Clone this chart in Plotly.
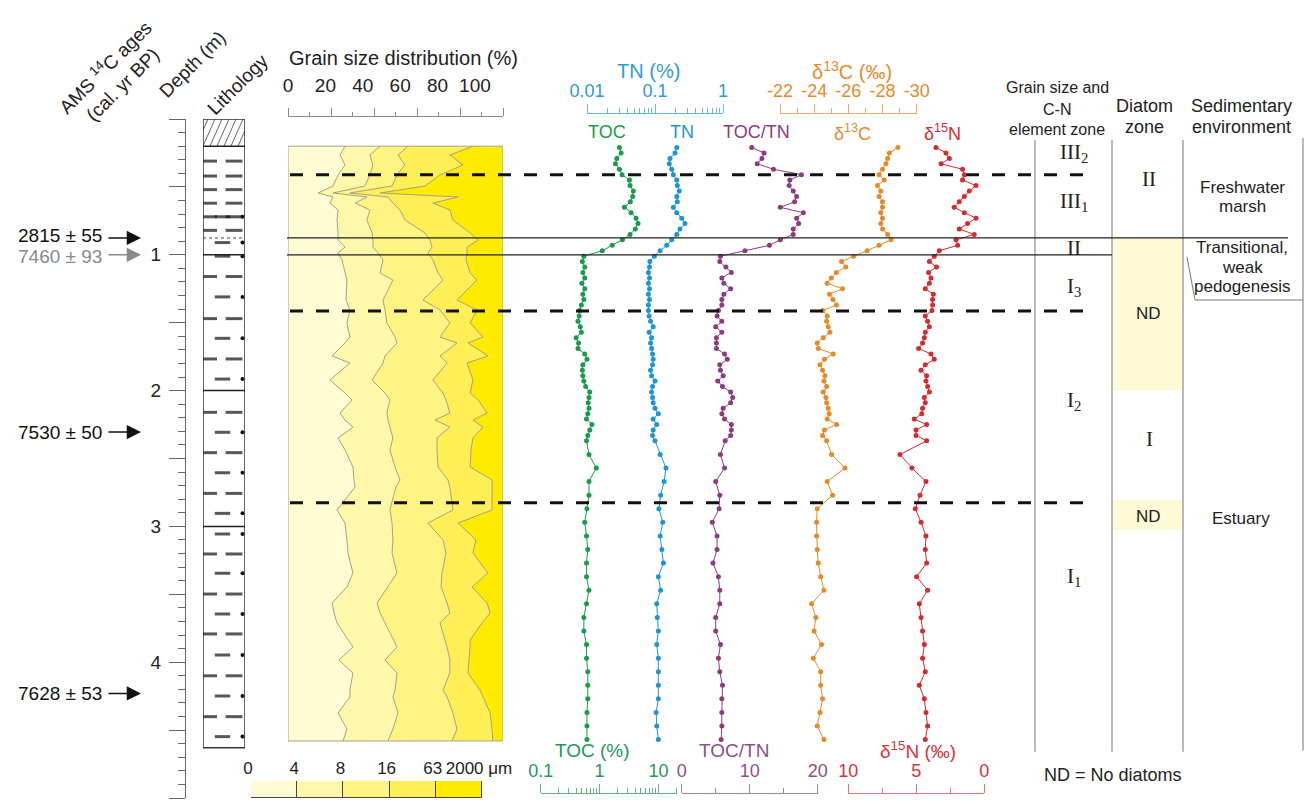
import plotly.graph_objects as go

W, H = 1306, 805
def fx(p): return p / W
def fy(p): return 1 - p / H

FONT = "Liberation Sans, Arial, sans-serif"
SERIF = "Liberation Serif, Times New Roman, serif"

# ---------------- data ----------------
depth = [0.21,0.25,0.29,0.33,0.37,0.41,0.45,0.49,0.53,0.57,0.61,0.65,0.69,0.73,0.77,0.81,0.85,0.89,0.93,0.97,
         1.01,1.05,1.09,1.13,1.17,1.21,1.25,1.29,1.33,1.37,1.41,1.45,1.49,1.53,1.57,1.61,1.65,1.69,1.73,1.77,
         1.81,1.85,1.89,1.93,1.97,2.01,2.05,2.09,2.13,2.17,2.21,2.25,2.29,2.33,2.37,
         2.47,2.57,2.67,2.77,2.87,2.97,3.07,3.17,3.27,3.37,3.47,3.57,3.67,3.77,3.87,3.97,4.07,4.17,4.27,4.37,4.47,4.57]
toc = [2.17,2.32,1.96,1.86,2.17,2.41,3.21,3.29,3.74,3.65,3.33,2.64,3.43,4.16,4.49,4.05,3.29,2.44,1.64,1.11,
       0.54,0.51,0.56,0.52,0.56,0.50,0.56,0.52,0.54,0.49,0.46,0.45,0.43,0.47,0.49,0.40,0.44,0.43,0.56,0.61,
       0.52,0.51,0.52,0.54,0.58,0.68,0.66,0.64,0.66,0.63,0.60,0.74,0.68,0.63,0.60,
       0.66,0.88,0.66,0.66,0.61,0.56,0.60,0.63,0.60,0.60,0.66,0.60,0.54,0.54,0.60,0.60,0.63,0.63,0.63,0.61,0.61,0.61]
tn = [0.209,0.197,0.166,0.162,0.176,0.186,0.209,0.213,0.228,0.209,0.213,0.186,0.209,0.247,0.276,0.233,0.209,0.176,0.149,0.119,
      0.098,0.084,0.083,0.080,0.083,0.080,0.083,0.080,0.083,0.080,0.080,0.082,0.086,0.094,0.082,0.089,0.086,0.089,0.092,0.094,
      0.092,0.086,0.089,0.100,0.092,0.089,0.092,0.094,0.100,0.112,0.094,0.106,0.094,0.092,0.100,
      0.119,0.145,0.136,0.121,0.114,0.130,0.119,0.126,0.133,0.112,0.121,0.106,0.108,0.112,0.106,0.112,0.112,0.112,0.112,0.104,0.106,0.112]
toc_tn = [10.3,12.1,11.8,11.1,13.5,17.6,15.9,15.8,16.4,16.9,16.6,14.5,17.9,16.9,17.2,16.4,16.4,14.5,12.9,9.3,
          5.7,5.6,6.5,7.3,5.9,6.2,7.2,6.2,5.9,5.9,5.4,5.2,5.9,5.0,5.9,5.1,5.1,5.1,6.3,6.7,
          5.6,5.7,6.1,5.3,6.0,7.2,7.5,7.2,6.1,5.9,6.3,7.3,7.3,7.2,6.4,
          5.7,6.3,5.0,5.6,5.5,4.5,5.2,5.2,4.6,5.4,5.6,5.6,5.0,5.0,5.7,5.4,5.6,6.0,5.9,5.9,5.9,5.8]
d13c = [-28.9,-28.4,-28.3,-28.2,-28.0,-27.8,-28.1,-27.7,-27.9,-27.8,-28.0,-28.0,-27.9,-28.0,-27.9,-28.0,-28.3,-28.5,-27.8,-27.1,
        -26.3,-25.6,-25.85,-25.3,-25.0,-24.76,-25.66,-24.9,-25.1,-25.3,-24.5,-24.76,-24.73,-24.82,-24.92,-24.53,-24.18,-24.24,-25.11,-24.6,
        -24.34,-24.49,-24.63,-24.57,-24.73,-24.53,-24.69,-24.73,-24.82,-24.88,-24.76,-25.31,-24.6,-24.49,-24.73,
        -25.02,-25.80,-24.76,-25.08,-24.18,-24.14,-24.14,-24.18,-24.24,-24.38,-24.57,-23.85,-24.10,-23.99,-24.43,-23.95,-24.38,-24.38,-24.49,-24.34,-24.18,-24.57]
d15n = [3.55,2.82,2.57,3.18,1.60,1.47,1.60,0.61,1.10,1.47,1.84,2.21,1.47,0.61,1.23,1.84,0.74,2.08,1.96,3.31,
        3.68,4.04,3.51,4.10,3.92,4.04,4.34,3.75,3.80,3.80,3.85,4.34,4.17,4.04,4.34,4.41,4.54,4.83,3.92,3.68,
        4.34,4.65,4.24,4.29,4.17,4.04,4.41,4.34,4.54,4.60,5.15,4.24,5.02,5.02,4.24,
        6.20,5.32,4.29,4.73,5.07,4.65,4.29,4.34,4.24,4.98,4.17,4.78,4.65,4.54,4.41,4.54,4.34,4.78,4.41,4.29,4.17,4.34]

grain_depth = [0.20,0.265,0.339,0.412,0.493,0.545,0.574,0.619,0.670,0.744,0.839,0.891,0.943,0.987,1.038,1.134,1.186,
               1.333,1.406,1.502,1.605,1.649,1.745,1.797,1.922,2.018,2.069,2.165,2.217,2.268,2.349,2.437,2.563,2.658,
               2.710,2.879,2.975,3.100,3.196,3.343,3.446,3.564,3.638,3.711,3.837,3.888,3.984,4.080,4.205,4.256,4.374,4.492,4.58]
lt4 = [26.5,24.2,26.5,23.3,20.9,14.0,20.9,19.5,23.3,22.8,23.3,23.3,26.5,23.3,25.1,26.5,27.4,27.0,28.8,27.4,
       28.8,26.5,20.5,28.8,19.5,26.5,29.8,24.2,26.5,30.2,23.3,26.5,30.2,30.7,31.2,22.8,26.5,27.4,27.9,30.2,
       27.4,20.5,21.4,22.8,27.9,30.2,23.7,30.2,28.8,28.8,23.3,27.4,25.6]
lt8 = [42.8,38.1,39.5,38.1,35.8,20.9,36.7,31.2,38.1,36.7,39.1,39.5,39.5,41.9,44.2,42.8,48.8,44.2,45.1,46.0,
       49.8,50.7,45.1,44.2,39.1,45.1,47.4,46.0,46.5,47.4,48.8,47.4,49.8,52.1,50.2,47.4,48.4,48.8,48.4,50.7,
       46.5,41.4,42.8,45.1,48.8,50.7,45.1,50.7,49.8,48.8,51.2,48.8,46.5]
lt16 = [55.8,51.2,54.4,50.7,48.4,28.8,46.5,48.8,52.1,54.4,63.7,66.0,67.0,65.1,67.4,69.8,72.1,62.8,70.7,75.3,
        70.7,78.6,70.7,74.0,67.4,72.1,73.5,75.3,68.4,75.3,69.3,69.3,69.8,74.4,75.3,76.7,65.1,72.1,73.5,71.6,
        71.2,74.0,75.3,70.7,73.0,74.0,75.3,75.3,72.1,74.0,76.7,78.6,76.3]
lt63 = [86.0,75.3,81.4,70.7,63.7,42.8,79.1,67.4,75.3,76.7,84.7,88.4,83.3,83.3,82.8,84.7,87.9,78.6,87.9,84.7,
        90.7,83.7,93.0,83.3,86.0,84.7,88.4,92.6,86.0,90.7,86.0,85.1,84.7,94.9,94.9,94.9,79.1,87.4,86.0,93.0,
        85.6,92.6,94.0,90.2,84.7,84.7,84.2,83.7,89.3,90.7,94.0,94.9,95.3]
grain_bounds_um = ['0', '4', '8', '16', '63', '2000 \u03bcm']
grain_colors = ['#FFFBD2', '#FFF7AA', '#FFF382', '#FFEF56', '#FFEB00']

litho_depth = [0.31,0.42,0.52,0.62,0.72,0.72,0.82,0.91,1.01,1.16,1.31,1.47,1.615,1.767,1.915,2.16,2.307,2.457,
               2.605,2.757,2.904,3.056,3.203,3.345,3.498,3.645,3.792,3.947,4.10,4.249,4.401,4.548]
litho_type = ['A','A','A','A','A','B','A','B','B','A','B','A','B','A','B','A','B','A','B','A','B','B','A','B',
              'A','B','A','B','A','B','A','B']
litho_bounds = [0.2, 1.0, 2.0, 3.0]
litho_dotted = [0.876]
litho_bottom = 4.63

zone_dashed = [0.41, 1.414, 2.825]
zone_solid = [0.876, 1.0]

ages = ['2815 \u00b1 55', '7460 \u00b1 93', '7530 \u00b1 50', '7628 \u00b1 53']
age_depth = [0.876, 1.0, 2.305, 4.23]
age_color = ['#111111', '#8a8a8a', '#111111', '#111111']
age_nudge = [2, -2, 0, 0]   # small vertical text offsets (px) for the two close labels

cn_zone = ['III<sub>2</sub>', 'III<sub>1</sub>', 'II', 'I<sub>3</sub>', 'I<sub>2</sub>', 'I<sub>1</sub>']
cn_zone_depth = [0.25, 0.61, 0.95, 1.235, 2.08, 3.37]
diatom_zone = ['II', 'ND', 'I', 'ND']
diatom_zone_depth = [0.44, 1.43, 2.36, 2.925]
diatom_nd = [(0.876, 1.996), (2.806, 3.027)]

# colours
C_TOC, C_TN, C_RAT, C_C13, C_N15 = '#1b9a4b', '#1f94d2', '#8b3c80', '#e5892a', '#d22b30'

fig = go.Figure()

# ---------------- grain size ----------------
for vals, col in [(lt63, grain_colors[3]), (lt16, grain_colors[2]), (lt8, grain_colors[1]), (lt4, grain_colors[0])]:
    fig.add_trace(go.Scatter(x=vals, y=grain_depth, xaxis='x', yaxis='y', mode='lines',
                             line=dict(color='#a5a386', width=1), fill='tozerox', fillcolor=col,
                             hoverinfo='skip', showlegend=False))
fig.add_trace(go.Scatter(x=[], y=[], xaxis='x2', yaxis='y', showlegend=False, hoverinfo='skip'))

# ---------------- geochemistry ----------------
for vals, ax, col in [(toc, 'x3', C_TOC), (tn, 'x4', C_TN), (toc_tn, 'x5', C_RAT), (d13c, 'x6', C_C13), (d15n, 'x7', C_N15)]:
    fig.add_trace(go.Scatter(x=vals, y=depth, xaxis=ax, yaxis='y', mode='lines+markers',
                             line=dict(color=col, width=1), marker=dict(color=col, size=5),
                             hoverinfo='skip', showlegend=False))

# ---------------- lithology ----------------
lx, ly, ls, lsym = [], [], [], []
for d, t in zip(litho_depth, litho_type):
    if t == 'A':
        lx += [0.167, 0.738]; ly += [d, d]; ls += [10, 12]; lsym += ['line-ew', 'line-ew']
    else:
        lx += [0.464]; ly += [d]; ls += [11]; lsym += ['line-ew']
fig.add_trace(go.Scatter(x=lx, y=ly, xaxis='x8', yaxis='y', mode='markers',
                         marker=dict(symbol=lsym, size=ls, line=dict(width=3, color='#111111')),
                         hoverinfo='skip', showlegend=False))
dots = [d for d, t in zip(litho_depth, litho_type) if t == 'B']
fig.add_trace(go.Scatter(x=[0.94] * len(dots), y=dots, xaxis='x8', yaxis='y', mode='markers',
                         marker=dict(symbol='circle', size=4, color='#111111'), hoverinfo='skip', showlegend=False))
# hatching of the top layer
hx, hy = [], []
step, slant, colw = 7.0, 12.0, 42.0
k = -3
while k * step < colw + 5:
    x0 = k * step / colw
    hx += [x0, x0 + slant / colw, None]
    hy += [litho_bounds[0], 0.0, None]
    k += 1
fig.add_trace(go.Scatter(x=hx, y=hy, xaxis='x8', yaxis='y', mode='lines',
                         line=dict(color='#666', width=1), hoverinfo='skip', showlegend=False))

# ---------------- grain legend bar ----------------
fig.add_trace(go.Bar(x=[i + 0.5 for i in range(len(grain_colors))], y=[1] * len(grain_colors), width=1,
                     marker=dict(color=grain_colors, line=dict(color='#444', width=1)),
                     xaxis='x9', yaxis='y2', cliponaxis=False, hoverinfo='skip', showlegend=False))

# ---------------- axes ----------------
def ruler(dom, rng, pos, lcol, tcol, tickvals, ticktext, minorvals, log=False):
    d = dict(domain=[fx(dom[0]), fx(dom[1])], range=rng, anchor='free', position=fy(pos), side='top',
             showline=True, linecolor=lcol, linewidth=1, ticks='outside', ticklen=9, tickwidth=1, tickcolor=lcol,
             tickmode='array', tickvals=tickvals, ticktext=ticktext, tickangle=0,
             tickfont=dict(size=18, color=tcol, family=FONT),
             minor=dict(tickmode='array', tickvals=minorvals, ticks='outside', ticklen=5, tickwidth=1, tickcolor=lcol),
             showgrid=False, zeroline=False, automargin=False, fixedrange=True)
    if log:
        d['type'] = 'log'
    return d

dec = [2, 3, 4, 5, 6, 7, 8, 9]
layout_axes = dict(
    yaxis=dict(domain=[fy(798), fy(119)], range=[5, 0], anchor='free', position=fx(185), side='left',
               showline=True, linecolor='#666', linewidth=1, ticks='outside', ticklen=16, tickcolor='#666',
               tickmode='array', tickvals=[0, 0.5, 1, 1.5, 2, 2.5, 3, 3.5, 4, 4.5, 5],
               ticktext=['', '', '1', '', '2', '', '3', '', '4', '', '5'],
               tickfont=dict(size=19, color='#222', family=FONT), ticklabelstandoff=4,
               minor=dict(tickmode='linear', tick0=0, dtick=0.1, ticks='outside', ticklen=7, tickcolor='#666'),
               showgrid=False, zeroline=False, automargin=False, fixedrange=True),
    xaxis=dict(domain=[fx(288), fx(503)], range=[0, 100], anchor='free', position=fy(116), side='top',
               showline=True, linecolor='#8a8a8a', linewidth=1, ticks='outside', ticklen=8, tickcolor='#8a8a8a',
               tickmode='array', tickvals=[0, 20, 40, 60, 80, 100], showticklabels=False,
               minor=dict(tickmode='array', tickvals=[10, 30, 50, 70, 90], ticks='outside', ticklen=4, tickcolor='#8a8a8a'),
               showgrid=False, zeroline=False, automargin=False, fixedrange=True),
    xaxis2=dict(domain=[fx(288), fx(503)], range=[0, 115], anchor='free', position=fy(116), side='top',
                showline=False, ticks='outside', ticklen=16, tickcolor='rgba(0,0,0,0)',
                tickmode='array', tickvals=[0, 20, 40, 60, 80, 100], tickangle=0,
                tickfont=dict(size=19, color='#222', family=FONT),
                showgrid=False, zeroline=False, automargin=False, fixedrange=True),
    xaxis3=ruler((540.7, 676.7), [-1, 1.3096], 793, '#62b283', '#22985a', [0.1, 1, 10], ['0.1', '1', '10'],
                 [v * 0.1 for v in dec] + dec + [20], log=True),
    xaxis4=ruler((587, 723), [-2, 0], 113, '#66b6e2', '#2f9ad6', [0.01, 0.1, 1], ['0.01', '0.1', '1'],
                 [v * 0.01 for v in dec] + [v * 0.1 for v in dec], log=True),
    xaxis5=ruler((681.7, 817.7), [0, 20], 793, '#a77e9f', '#8e4f85', [0, 10, 20], ['0', '10', '20'], [5, 15]),
    xaxis6=ruler((780, 916.7), [-22, -30], 113, '#eca96a', '#e68a2e', [-22, -24, -26, -28, -30],
                 ['-22', '-24', '-26', '-28', '-30'], [-23, -25, -27, -29]),
    xaxis7=ruler((848.3, 984.3), [10, 0], 793, '#e07474', '#d3353a', [10, 5, 0], ['10', '5', '0'], [7.5, 2.5]),
    xaxis8=dict(domain=[fx(203), fx(245)], range=[0, 1], anchor='y', visible=False, fixedrange=True),
    xaxis9=dict(domain=[fx(251), fx(482)], range=[0, 5], anchor='y2', side='top', showline=False,
                ticks='', tickmode='array', tickvals=list(range(len(grain_bounds_um))), ticktext=grain_bounds_um,
                tickangle=0, tickfont=dict(size=17, color='#222', family=FONT), ticklabelshift=-3, ticklabelstandoff=3,
                showgrid=False, zeroline=False, automargin=False, fixedrange=True),
    yaxis2=dict(domain=[fy(798), fy(781)], range=[0, 1], anchor='x9', visible=False, fixedrange=True),
)

# ---------------- shapes ----------------
shapes = []
shapes.append(dict(type='rect', xref='x', yref='y', x0=0, x1=100, y0=grain_depth[0], y1=grain_depth[-1],
                   fillcolor=grain_colors[4], line=dict(width=0), layer='below'))
shapes.append(dict(type='rect', xref='x', yref='y', x0=0, x1=100, y0=grain_depth[0], y1=grain_depth[-1],
                   fillcolor='rgba(0,0,0,0)', line=dict(color='#a8a48a', width=1), layer='above'))
shapes.append(dict(type='rect', xref='x8', yref='y', x0=0, x1=1, y0=0, y1=litho_bottom,
                   line=dict(color='#333', width=1.5), fillcolor='rgba(0,0,0,0)'))
for b in litho_bounds:
    shapes.append(dict(type='line', xref='x8', yref='y', x0=0, x1=1, y0=b, y1=b, line=dict(color='#222', width=1.5)))
for b in litho_dotted:
    shapes.append(dict(type='line', xref='x8', yref='y', x0=0, x1=1, y0=b, y1=b, line=dict(color='#444', width=1, dash='dot')))
for a, b in diatom_nd:
    shapes.append(dict(type='rect', xref='paper', yref='y', x0=fx(1113), x1=fx(1182), y0=a, y1=b,
                       fillcolor='#FEFAD6', line=dict(width=0), layer='below'))
for xc in [1035, 1112, 1183]:
    shapes.append(dict(type='line', xref='paper', yref='y', x0=fx(xc), x1=fx(xc), y0=0.155, y1=4.66,
                       line=dict(color='#8a8a8a', width=1.2)))
shapes.append(dict(type='line', xref='paper', yref='y', x0=fx(1303), x1=fx(1303), y0=0.14, y1=4.65,
                   line=dict(color='#8a8a8a', width=1.2)))
shapes.append(dict(type='line', xref='paper', yref='y', x0=fx(1187), x1=fx(1195), y0=1.016, y1=1.333,
                   line=dict(color='#777', width=1)))
shapes.append(dict(type='line', xref='paper', yref='y', x0=fx(1195), x1=fx(1303), y0=1.333, y1=1.333,
                   line=dict(color='#777', width=1)))
for z in zone_dashed:
    shapes.append(dict(type='line', xref='paper', yref='y', x0=fx(290), x1=fx(1094), y0=z, y1=z,
                       line=dict(color='#111', width=3, dash='13px,13px')))
shapes.append(dict(type='line', xref='paper', yref='y', x0=fx(287), x1=fx(1288), y0=zone_solid[0], y1=zone_solid[0],
                   line=dict(color='#222', width=1.2)))
shapes.append(dict(type='line', xref='paper', yref='y', x0=fx(287), x1=fx(1112), y0=zone_solid[1], y1=zone_solid[1],
                   line=dict(color='#222', width=1.2)))

# ---------------- annotations ----------------
ann = []
def txt(x, y, s, size=18, color='#222', family=FONT, yref='paper', **kw):
    ann.append(dict(x=fx(x), y=(fy(y) if yref == 'paper' else y), xref='paper', yref=yref, text=s,
                    showarrow=False, font=dict(size=size, color=color, family=family),
                    xanchor='center', yanchor='middle', **kw))

txt(104, 67, 'AMS <sup>14</sup>C ages', size=19, textangle=-45)
txt(123, 85, '(cal. yr BP)', size=19, textangle=-45)
txt(192, 64, 'Depth (m)', size=19, textangle=-45)
txt(238, 85, 'Lithology', size=19, textangle=-45)

txt(403, 58, 'Grain size distribution (%)', size=20)
txt(648, 71, 'TN (%)', size=20, color='#2f9ad6')
txt(852, 71, '\u03b4<sup>13</sup>C (\u2030)', size=20, color='#e68a2e')

txt(607, 132, 'TOC', size=18, color=C_TOC)
txt(682, 132, 'TN', size=18, color=C_TN)
txt(757, 132, 'TOC/TN', size=18, color=C_RAT)
txt(852, 132, '\u03b4<sup>13</sup>C', size=18, color=C_C13)
txt(942, 132, '\u03b4<sup>15</sup>N', size=18, color=C_N15)

txt(592, 750, 'TOC (%)', size=19, color='#22985a')
txt(734, 750, 'TOC/TN', size=19, color='#8e4f85')
txt(918, 750, '\u03b4<sup>15</sup>N (\u2030)', size=19, color='#d3353a')

txt(1057, 87, 'Grain size and', size=16)
txt(1057, 109, 'C-N', size=16)
txt(1057, 130, 'element zone', size=16)
txt(1144, 106, 'Diatom', size=18)
txt(1144, 127, 'zone', size=18)
txt(1241, 106, 'Sedimentary', size=18)
txt(1241, 127, 'environment', size=18)

for s, d in zip(cn_zone, cn_zone_depth):
    txt(1074, d, s, size=21, family=SERIF, yref='y')
for s, d in zip(diatom_zone, diatom_zone_depth):
    if s == 'ND':
        txt(1148, d, s, size=17, yref='y')
    else:
        txt(1149, d, s, size=21, family=SERIF, yref='y')

txt(1242, 188, 'Freshwater', size=17)
txt(1242, 207, 'marsh', size=17)
txt(1242, 248, 'Transitional,', size=17)
txt(1242, 267, 'weak', size=17)
txt(1242, 286, 'pedogenesis', size=17)
txt(1241, 518, 'Estuary', size=17)
txt(1113, 775, 'ND = No diatoms', size=18)

for s, d, c, nud in zip(ages, age_depth, age_color, age_nudge):
    # label text
    ann.append(dict(x=fx(103), y=d, xref='paper', yref='y', text=s, showarrow=False,
                    xanchor='right', yanchor='middle', yshift=nud, borderpad=0,
                    font=dict(size=19, color=c, family=FONT)))
    # arrow
    ann.append(dict(x=fx(141), y=d, xref='paper', yref='y', text='', showarrow=True,
                    ax=-34, ay=0, arrowhead=2, arrowsize=1.9, arrowwidth=1.5, arrowcolor=c, standoff=0,
                    startstandoff=0))

fig.update_layout(
    width=W, height=H, margin=dict(l=0, r=0, t=0, b=0), template='none',
    paper_bgcolor='white', plot_bgcolor='rgba(0,0,0,0)', showlegend=False,
    font=dict(family=FONT, color='#222'), shapes=shapes, annotations=ann, bargap=0,
    **layout_axes)

fig.write_html("out.html", config=dict(displayModeBar=False))
